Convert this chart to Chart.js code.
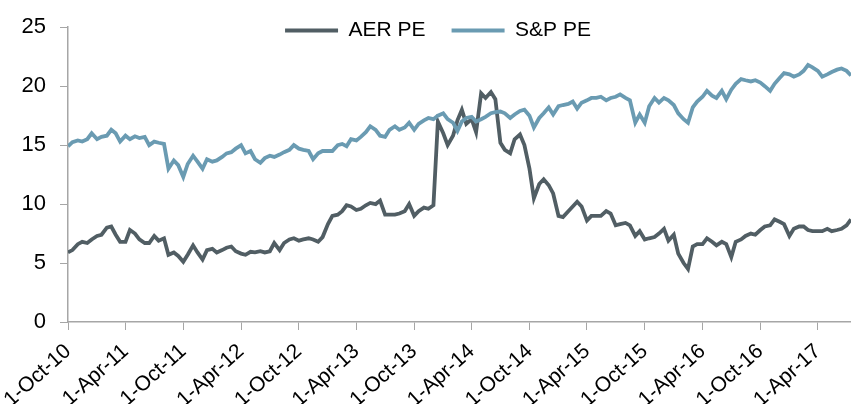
<!DOCTYPE html>
<html lang="en">
<head>
<meta charset="UTF-8">
<title>AER PE vs S&amp;P PE</title>
<script src="https://cdn.jsdelivr.net/npm/chart.js"></script>
<style>
  html, body { margin: 0; padding: 0; background: #fff; }
  #wrap { width: 851px; height: 404px; }
</style>
</head>
<body>
<div id="wrap"><canvas id="peChart" width="851" height="404"></canvas></div>
<script>
// semi-monthly observation dates
const dates = [
  '2010-10-01','2010-10-15','2010-11-01','2010-11-15','2010-12-01','2010-12-15','2011-01-01','2011-01-15','2011-02-01','2011-02-15','2011-03-01','2011-03-15',
  '2011-04-01','2011-04-15','2011-05-01','2011-05-15','2011-06-01','2011-06-15','2011-07-01','2011-07-15','2011-08-01','2011-08-15','2011-09-01','2011-09-15',
  '2011-10-01','2011-10-15','2011-11-01','2011-11-15','2011-12-01','2011-12-15','2012-01-01','2012-01-15','2012-02-01','2012-02-15','2012-03-01','2012-03-15',
  '2012-04-01','2012-04-15','2012-05-01','2012-05-15','2012-06-01','2012-06-15','2012-07-01','2012-07-15','2012-08-01','2012-08-15','2012-09-01','2012-09-15',
  '2012-10-01','2012-10-15','2012-11-01','2012-11-15','2012-12-01','2012-12-15','2013-01-01','2013-01-15','2013-02-01','2013-02-15','2013-03-01','2013-03-15',
  '2013-04-01','2013-04-15','2013-05-01','2013-05-15','2013-06-01','2013-06-15','2013-07-01','2013-07-15','2013-08-01','2013-08-15','2013-09-01','2013-09-15',
  '2013-10-01','2013-10-15','2013-11-01','2013-11-15','2013-12-01','2013-12-15','2014-01-01','2014-01-15','2014-02-01','2014-02-15','2014-03-01','2014-03-15',
  '2014-04-01','2014-04-15','2014-05-01','2014-05-15','2014-06-01','2014-06-15','2014-07-01','2014-07-15','2014-08-01','2014-08-15','2014-09-01','2014-09-15',
  '2014-10-01','2014-10-15','2014-11-01','2014-11-15','2014-12-01','2014-12-15','2015-01-01','2015-01-15','2015-02-01','2015-02-15','2015-03-01','2015-03-15',
  '2015-04-01','2015-04-15','2015-05-01','2015-05-15','2015-06-01','2015-06-15','2015-07-01','2015-07-15','2015-08-01','2015-08-15','2015-09-01','2015-09-15',
  '2015-10-01','2015-10-15','2015-11-01','2015-11-15','2015-12-01','2015-12-15','2016-01-01','2016-01-15','2016-02-01','2016-02-15','2016-03-01','2016-03-15',
  '2016-04-01','2016-04-15','2016-05-01','2016-05-15','2016-06-01','2016-06-15','2016-07-01','2016-07-15','2016-08-01','2016-08-15','2016-09-01','2016-09-15',
  '2016-10-01','2016-10-15','2016-11-01','2016-11-15','2016-12-01','2016-12-15','2017-01-01','2017-01-15','2017-02-01','2017-02-15','2017-03-01','2017-03-15',
  '2017-04-01','2017-04-15','2017-05-01','2017-05-15','2017-06-01','2017-06-15','2017-07-01','2017-07-15'
];

const aerPE = [
  5.9, 6.1, 6.6, 6.8, 6.7, 7.0, 7.3, 7.4, 8.0, 8.1, 7.4, 6.8,
  6.8, 7.8, 7.5, 7.0, 6.7, 6.7, 7.3, 6.9, 7.1, 5.7, 5.9, 5.6,
  5.1, 5.7, 6.5, 5.9, 5.3, 6.1, 6.2, 5.9, 6.1, 6.3, 6.4, 6.0,
  5.8, 5.7, 5.95, 5.9, 6.0, 5.9, 6.0, 6.7, 6.1, 6.7, 7.0, 7.1,
  6.9, 7.0, 7.1, 7.0, 6.8, 7.2, 8.3, 9.0, 9.1, 9.4, 9.9, 9.8,
  9.5, 9.6, 9.9, 10.1, 10.0, 10.3, 9.1, 9.1, 9.1, 9.2, 9.4, 10.0,
  9.0, 9.4, 9.7, 9.6, 9.9, 17.0, 16.0, 15.0, 15.8, 17.1, 18.0, 16.8,
  17.2, 16.1, 19.4, 19.0, 19.5, 18.9, 15.2, 14.6, 14.3, 15.5, 15.9, 15.0,
  13.0, 10.5, 11.7, 12.1, 11.6, 10.9, 9.0, 8.9, 9.4, 9.8, 10.2, 9.8,
  8.6, 9.0, 9.0, 9.0, 9.4, 9.2, 8.2, 8.3, 8.4, 8.2, 7.3, 7.7,
  7.0, 7.1, 7.2, 7.5, 7.9, 6.9, 7.4, 5.8, 5.0, 4.5, 6.4, 6.6,
  6.6, 7.1, 6.8, 6.5, 6.8, 6.6, 5.5, 6.8, 7.0, 7.3, 7.5, 7.4,
  7.8, 8.1, 8.2, 8.7, 8.5, 8.3, 7.3, 7.9, 8.1, 8.1, 7.8, 7.7,
  7.7, 7.7, 7.9, 7.7, 7.8, 7.9, 8.2, 8.7
];

const spPE = [
  14.9, 15.25, 15.4, 15.3, 15.5, 16.0, 15.5, 15.7, 15.8, 16.3, 16.0, 15.3,
  15.8, 15.5, 15.75, 15.6, 15.7, 15.0, 15.3, 15.2, 15.1, 13.0, 13.7, 13.3,
  12.3, 13.4, 14.1, 13.6, 13.0, 13.8, 13.6, 13.7, 14.0, 14.3, 14.4, 14.7,
  15.0, 14.3, 14.5, 13.8, 13.5, 13.9, 14.1, 14.0, 14.2, 14.4, 14.6, 15.0,
  14.7, 14.6, 14.5, 13.8, 14.3, 14.5, 14.5, 14.5, 15.0, 15.1, 14.9, 15.5,
  15.4, 15.7, 16.1, 16.6, 16.3, 15.8, 15.7, 16.3, 16.6, 16.3, 16.5, 16.9,
  16.3, 16.8, 17.1, 17.3, 17.2, 17.5, 17.7, 17.2, 16.9, 16.2, 17.0, 17.3,
  17.4, 17.0, 17.2, 17.4, 17.7, 17.8, 17.85, 17.7, 17.3, 17.6, 17.9, 18.0,
  17.5, 16.5, 17.3, 17.7, 18.2, 17.6, 18.3, 18.4, 18.5, 18.7, 18.1, 18.6,
  18.8, 19.0, 19.0, 19.1, 18.8, 19.0, 19.1, 19.3, 19.0, 18.8, 16.9, 17.6,
  16.9, 18.3, 19.0, 18.6, 19.0, 18.8, 18.4, 17.7, 17.2, 16.9, 18.2, 18.7,
  19.1, 19.6, 19.2, 19.0, 19.6, 18.9, 19.7, 20.2, 20.6, 20.5, 20.4, 20.5,
  20.3, 20.0, 19.6, 20.2, 20.7, 21.1, 21.0, 20.8, 21.0, 21.3, 21.8, 21.6,
  21.3, 20.8, 21.0, 21.2, 21.4, 21.5, 21.3, 20.9
];

const tickDates = ['2010-10-01','2011-04-01','2011-10-01','2012-04-01','2012-10-01','2013-04-01','2013-10-01',
  '2014-04-01','2014-10-01','2015-04-01','2015-10-01','2016-04-01','2016-10-01','2017-04-01'];
const tickLabels = ['1-Oct-10','1-Apr-11','1-Oct-11','1-Apr-12','1-Oct-12','1-Apr-13','1-Oct-13',
  '1-Apr-14','1-Oct-14','1-Apr-15','1-Oct-15','1-Apr-16','1-Oct-16','1-Apr-17'];

// days since the first date
const base = Date.parse(dates[0]);
const dayOf = d => (Date.parse(d) - base) / 86400000;

const aerColor = '#515e64';
const spColor = '#6a9bb2';
const axisColor = '#a6a6a6';
const font = 'Liberation Sans, Arial, sans-serif';

// legend sits over the plot (takes no layout space), like the original
const legendSpot = {
  id: 'legendSpot',
  afterInit(chart) {
    const l = chart.legend;
    const fit = l.fit;
    l.fit = function () { fit.call(this); this.height = 0; };
  },
  afterLayout(chart) {
    const l = chart.legend;
    const w = 800;
    l.left = 438 - w / 2;
    l.right = l.left + w;
    l.width = w;
    l.top = -6;
    l.height = 50;
    l.bottom = l.top + 50;
  }
};

new Chart(document.getElementById('peChart'), {
  type: 'line',
  data: {
    datasets: [{
      label: 'AER PE',
      data: dates.map((d, i) => ({ x: dayOf(d), y: aerPE[i] })),
      borderColor: aerColor,
      backgroundColor: aerColor,
      borderWidth: 3.8,
      pointRadius: 0,
      tension: 0,
      order: 1
    }, {
      label: 'S&P PE',
      data: dates.map((d, i) => ({ x: dayOf(d), y: spPE[i] })),
      borderColor: spColor,
      backgroundColor: spColor,
      borderWidth: 3.8,
      pointRadius: 0,
      tension: 0,
      order: 0
    }]
  },
  options: {
    responsive: false,
    animation: false,
    layout: { padding: { top: 21, right: 0, left: 0, bottom: 0 } },
    plugins: {
      tooltip: { enabled: false },
      legend: {
        position: 'top',
        align: 'center',
        labels: {
          color: '#000',
          font: { family: font, size: 21 },
          boxWidth: 53,
          boxHeight: 4,
          padding: 26,
          generateLabels: chart => chart.data.datasets.map((ds, i) => ({
            text: ds.label,
            fillStyle: ds.borderColor,
            strokeStyle: ds.borderColor,
            lineWidth: 0,
            datasetIndex: i
          }))
        }
      }
    },
    scales: {
      x: {
        type: 'linear',
        min: 0,
        max: dayOf(dates[dates.length - 1]),
        grid: { drawOnChartArea: false, tickLength: 8, color: axisColor },
        border: { color: axisColor, width: 1.5 },
        afterBuildTicks: s => { s.ticks = tickDates.map(d => ({ value: dayOf(d) })); },
        afterFit: s => { s.height = 82; s.paddingLeft = 0; s.paddingRight = 0; },
        ticks: {
          autoSkip: false,
          minRotation: 42,
          maxRotation: 42,
          padding: 9,
          color: '#000',
          font: { family: font, size: 21 },
          callback: (v, i) => tickLabels[i]
        }
      },
      y: {
        min: 0,
        max: 25,
        grid: { drawOnChartArea: false, tickLength: 8, color: axisColor },
        border: { color: axisColor, width: 1.5 },
        afterFit: s => { s.width = 68; },
        ticks: {
          stepSize: 5,
          padding: 14,
          color: '#000',
          font: { family: font, size: 22 }
        }
      }
    }
  },
  plugins: [legendSpot]
});
</script>
</body>
</html>
